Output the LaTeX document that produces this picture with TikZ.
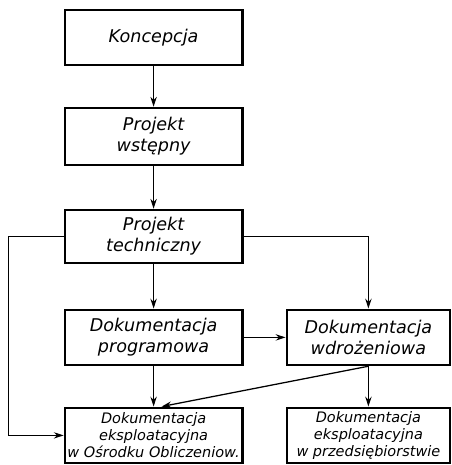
\documentclass[tikz,border=0pt]{standalone}
\usepackage{fontspec}
\setmainfont{DejaVu Sans}
\usetikzlibrary{arrows.meta}
\begin{document}
\begin{tikzpicture}[
          blok/.style={draw, line width=1.9pt, align=center, minimum width=4.43cm, minimum height=1.375cm, font=\fontsize{12.5}{15}\selectfont\itshape},
          blokmaly/.style={blok, minimum width=4.075cm, inner sep=0pt, font=\fontsize{10.3}{12.2}\selectfont\itshape},
          strz/.style={line width=0.9pt, -{Stealth[length=7pt, width=4.5pt]}}]
          \useasboundingbox (0,0) rectangle (11.3,11.625);

          \node[blok] (konc) at (3.84,10.69) {Koncepcja};
          \node[blok, minimum height=1.425cm] (wst) at (3.84,8.21) {Projekt\\wstępny};
          \node[blok, minimum height=1.325cm] (tech) at (3.84,5.71) {Projekt\\techniczny};

          \node[blok] (prog) at (3.84,3.19) {Dokumentacja\\programowa};
          \node[blok, minimum width=4.075cm] (wdr) at (9.21,3.19) {Dokumentacja\\wdrożeniowa};

          \node[blokmaly, minimum width=4.43cm] (eksO) at (3.84,0.74) {Dokumentacja\\eksploatacyjna\\w Ośrodku Obliczeniow.};
          \node[blokmaly] (eksP) at (9.21,0.74) {Dokumentacja\\eksploatacyjna\\w przedsiębiorstwie};

          \draw[strz] (konc) -- (wst);
          \draw[strz] (wst) -- (tech);
          \draw[strz] (tech) -- (prog);
          \draw[strz] (tech.east) -| (wdr.north);
          \draw[strz] (tech.west) -- ++(-1.375,0) |- (eksO.west);

          \draw[strz] (prog) -- (wdr);
          \draw[strz] (prog) -- (eksO);
          \draw[strz] (wdr.south) -- ([xshift=0.2cm]eksO.north);
          \draw[strz] (wdr) -- (eksP);
        \end{tikzpicture}
\end{document}
